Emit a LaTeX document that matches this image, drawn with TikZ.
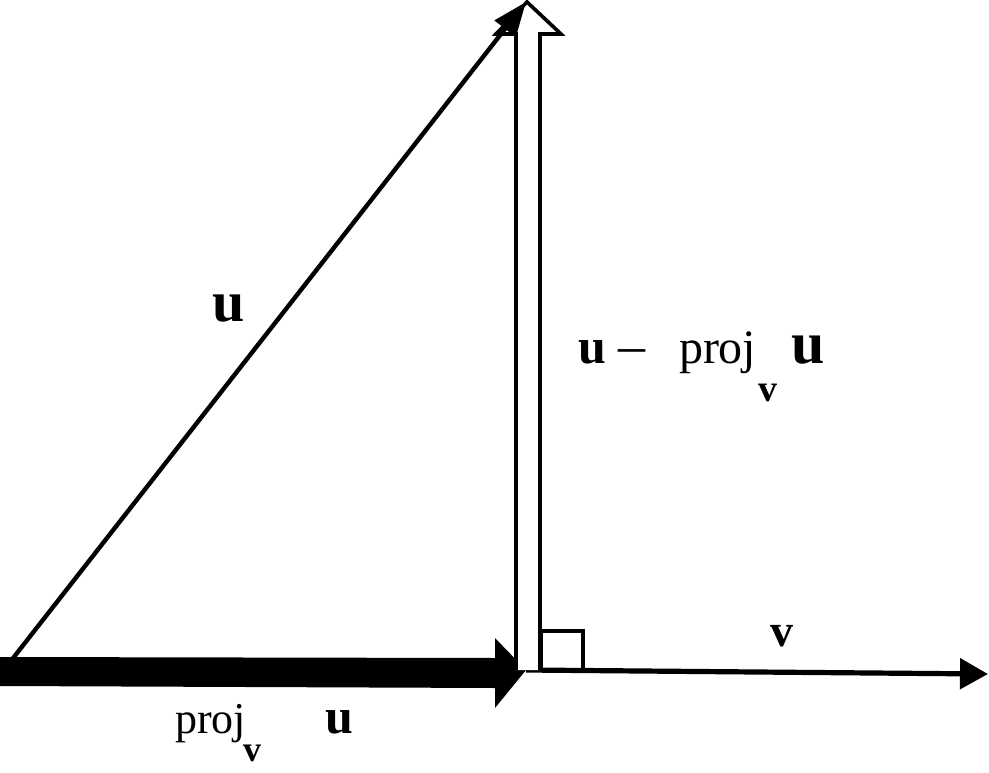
\documentclass[tikz,border=0pt]{standalone}
\usepackage{fontspec}
\setmainfont{Liberation Serif}
\usetikzlibrary{calc,arrows.meta}
\tikzset{
  thinvec/.style={line width=4.4pt,-{Triangle[length=34pt,width=26pt]}},
  axisvec/.style={line width=5.2pt,-{Triangle[length=28pt,width=30pt]}},
  hollow/.style={draw=black,fill=white,line width=3.6pt,line join=miter},
  solidvec/.style={fill=black,draw=none},
  lab/.style={inner sep=0pt,text=black},
}
\newcommand{\fs}[1]{\fontsize{#1}{#1}\selectfont}
\begin{document}
\begin{tikzpicture}[x=1pt,y=-1pt]
\useasboundingbox (0,0) rectangle (989,772);
\coordinate (O) at (3,671);
\coordinate (F) at (526,670);
\coordinate (T) at (526,2);
\coordinate (V) at (988,674);
% projection (thick solid arrow)
\fill[solidvec] (0,657) -- (495,658) -- (495,638) -- (F) -- (495,708) -- (495,688) -- (0,686) -- cycle;
% v axis
\draw[axisvec] (F) -- (V);
% right-angle mark
\draw[line width=3.4pt] (541,669) |- (583,631) -- (583,670);
% hollow arrow u - proj_v u
\path[hollow] (516,670) -- (516,34) -- (496,34) -- (527,2) -- (561,34) -- (540,34) -- (540,670);
% u
\draw[thinvec] (O) -- (T);
% labels
\node[lab] (ul) at (229,309) {\fs{58}\textbf{u}};
\node[lab] (vl) at (782,636) {\fs{46}\textbf{v}};
\node[lab,anchor=base west] (diff) at (578,363)
  {\fs{50}\textbf{u}\hspace{12pt}{\fs{54}\textendash}\hspace{34pt}{\fs{48}proj}\hspace{2pt}\raisebox{-38pt}{\fs{38}\textbf{v}}\hspace{14pt}{\fs{60}\textbf{u}}};
\node[lab,anchor=base west] (proj) at (175,733)
  {\fs{44}proj\hspace{-3pt}\raisebox{-28pt}{\fs{36}\textbf{v}}\hspace{64pt}{\fs{50}\textbf{u}}};
\end{tikzpicture}
\end{document}
